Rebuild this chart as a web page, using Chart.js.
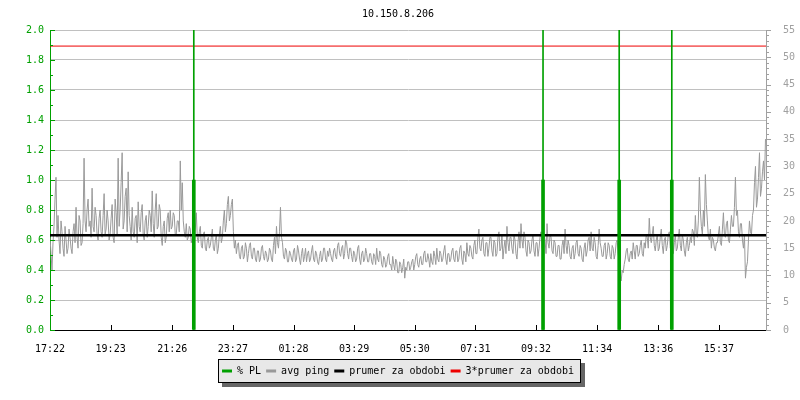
<!DOCTYPE html>
<html>
<head>
<meta charset="utf-8">
<script src="https://cdn.jsdelivr.net/npm/chart.js@4/dist/chart.umd.min.js"></script>
<style>
html,body{margin:0;padding:0;background:#fff;}
canvas{display:block;}
</style>
</head>
<body>
<canvas id="c" width="800" height="400"></canvas>
<script>
// ---------------- data ----------------
const chartTitle = '10.150.8.206';
const seriesLabels = ['% PL', 'avg ping', 'prumer za obdobi', '3*prumer za obdobi'];
// x axis: minutes since 17:22
const periodMinutes = 1429;
const tickMinutes = [0, 121, 244, 365, 486, 607, 728, 849, 970, 1092, 1214, 1335];
const tickLabels = ['17:22', '19:23', '21:26', '23:27', '01:28', '03:29', '05:30', '07:31', '09:32', '11:34', '13:36', '15:37'];
// avg ping (ms), one sample every 2 minutes
const pingStepMinutes = 2;
const avgPing = [
  17,14, 11,16, 19,24, 28,17, 21,16.5, 14,20, 18,15, 13.5,19, 16.5,14, 15,18.5,
  17,15, 14,18, 19.5,16, 22.5,17, 15,21, 20,15.5, 16,19.5, 31.5,20, 18,22, 24,19,
  20,17, 26,19, 18,22.5, 21,17.5, 16.5,20.5, 22,18, 17,21, 25,17.5, 18.5,22, 20,16.5,
  17.5,20.5, 23,17, 16,24, 21.5,17.5, 31.5,19, 22,27, 32.5,18.5, 20,24.5, 26,18, 29,21,
  19,16.5, 22.5,18, 17,20.5, 21,16, 23.5,19, 18,21.5, 23,17.5, 16.5,20, 21,17, 19,22,
  21,18, 25.5,19.5, 17,22, 25,18.5, 19,23, 22,17, 15.5,19, 20,16, 17,20.5, 21.5,18,
  22,18.5, 19,21.5, 21,17.5, 17.5,20, 20,18, 31,22, 27,20, 18,17, 19.5,16.5, 17,19,
  18.5,16, 17,19, 16,18.5, 21.5,17, 16,18, 19,15.5, 15,17.5, 18,15, 14.5,16.5, 17,15,
  15.5,17, 18.5,15, 14.5,16.5, 17.5,14, 15,17.5, 19,16, 17,20, 22,18, 19.5,23, 24.5,20,
  21,23, 24,18, 15,16.5, 14,15.5, 16,13.5, 13,15, 15.5,13, 13.5,16, 15,12.5, 14,15.5,
  16,13.5, 13,15, 15,13, 12.5,14.5, 14.5,12.5, 13,15, 15.5,13.5, 12.8,14.5, 14,12.5, 13,15,
  14.5,13, 12.5,15.5, 17,14, 19,16, 15,18, 22.5,17, 16,13.5, 13,15, 14.5,12.5, 12.5,14.5,
  14,13, 12.5,14.5, 15,12.5, 13,15.5, 14.5,13, 12,14, 15,12.5, 13.5,15, 12.5,14, 14.5,12.5,
  13,14.5, 15.5,13, 12.5,14.5, 14,12.5, 12,13.5, 14.5,12.5, 13,15, 15,13, 12.5,14.5, 13.5,15,
  14,13, 12.5,14.5, 15,13.5, 13,15.5, 16,14, 13.5,15, 15.5,13, 14,16.5, 16,14, 13,15,
  15,13.5, 12.5,14.5, 14,12.5, 13,15, 15.5,13, 12,14, 14.5,12.5, 13,15, 14,12.5, 12.5,14,
  14,12.5, 12,14, 13.5,12, 15,13, 12.5,14.5, 14,12, 11.5,13.5, 13,11.5, 12,13.5, 14,12,
  12,11, 13.5,12, 11,13, 12.5,10.5, 10.5,12.5, 12,10.5, 11.5,13, 9.5,11.5, 11,12.5, 12.5,11,
  11.5,12.5, 13,11, 12,13.5, 14,12, 11.5,13, 13.5,12, 12,14, 14.5,12.5, 12.5,14, 13,11.5,
  14,12.5, 12,14.5, 13.5,12, 15,13, 12.5,14.5, 14,12.5, 13,14.5, 15.5,13, 12,14, 14,12.5,
  13,14.5, 15,13, 12.5,14.5, 14.5,12.5, 13,15, 15.5,13, 12,14.5, 14,12.5, 16,14, 13.5,15.5,
  15,13.5, 13,15.5, 16.5,14, 14,17, 18.5,15, 14.5,16.5, 17,14, 13.5,16, 16,13.5, 15,17,
  17,14.5, 13.5,16.5, 16,13.5, 14,17, 18,14.5, 15,17.5, 13,15, 16.5,14, 19,16, 14.5,17,
  17,15, 14,17.5, 16.5,14, 13,16, 18,15, 19.5,16.5, 15,18, 17,14.5, 13.5,16.5, 16,14,
  14.5,16.5, 17.5,14.5, 13.5,16, 16,13.5, 15,17, 18,15, 14,17.5, 16.5,14, 19.5,16, 15,17.5,
  17,14.5, 14,16.5, 16,13.5, 13.5,15.5, 15.5,13, 13,15.5, 16.5,14, 18.5,15.5, 14,16.5, 15.5,13.5,
  13,15, 15.5,13, 14,16, 16.5,14, 13.5,15.5, 15,13, 12.5,15, 16,13.5, 14.5,16.5, 17,14.5,
  18,15, 14.5,17, 16,13.5, 13,15.5, 18.5,16, 15,13.5, 13.5,15.5, 16,13, 14,16, 15.5,13.5,
  13,15.5, 15,13, 14,16, 16.5,14, 12.5,10, 9,11, 10.5,12, 13,14.5, 15,13, 12.5,14,
  14.5,13, 16,14.5, 13,15.5, 15.5,13.5, 14,15.5, 16.5,14, 13.5,16, 15,17.5, 17,15, 20.5,17,
  16,17.5, 19,15.5, 14.5,16.5, 17.5,14.5, 15,17, 18.5,15.5, 14,16.5, 17,14.5, 15.5,17.5, 18,15,
  16,17.5, 14,16, 17.5,14.5, 15,17, 18.5,15.5, 14.5,17.5, 16.5,14.5, 13.5,16, 17,14.5, 15.5,17,
  16,18.5, 18,15.5, 21,17.5, 17,20, 28,22, 19,17.5, 22,19, 28.5,23, 20,17, 16.5,18.5,
  15,17, 16.5,15, 14.5,16, 16,17.5, 19,16, 15.5,18.5, 21.5,17.5, 17,19.5, 20,16.5, 16,18.5,
  21,19, 19,22.5, 28,21, 22,18, 17,19.5, 19.5,16.5, 15,17.5, 9.5,11.5, 12.5,16.5, 20,18,
  17.5,21, 22,27, 30,22.5, 24,28, 32.5,24.5, 26,29, 31,27.5, 35
];
// packet loss events
const plMinutes = [287, 984, 1136, 1241];
const plPercent = [1.0, 1.0, 1.0, 1.0];
// period average of ping (ms)
const periodAvgPing = 17.35;
const plAxisMax = 2.0;
const pingAxisMax = 55;

// ---------------- styles ----------------
const FONT = 'DejaVu Sans Mono';
const GREEN = '#00a000';
const GRAY = '#999999';
const AXISGRAY = '#a0a0a0';
const GRID = '#c0c0c0';

Chart.defaults.font.family = FONT;
Chart.defaults.font.size = 10;

const axisTicks = {
  id: 'axisTicks',
  afterDatasetsDraw(chart) {
    const {ctx, chartArea: a, scales} = chart;
    ctx.save();
    ctx.lineWidth = 1;
    ctx.strokeStyle = '#000';
    ctx.beginPath();
    scales.x.ticks.forEach(t => {
      if (t.value <= scales.x.min) return;
      const px = Math.round(scales.x.getPixelForValue(t.value)) + 0.5;
      ctx.moveTo(px, a.bottom);
      ctx.lineTo(px, a.bottom - 5);
    });
    ctx.stroke();
    const drawY = (scale, color, x0, dir, sub) => {
      ctx.strokeStyle = color;
      ctx.beginPath();
      const tv = scale.ticks.map(t => t.value);
      tv.forEach((v, i) => {
        const py = Math.round(scale.getPixelForValue(v)) + 0.5;
        ctx.moveTo(x0, py); ctx.lineTo(x0 + dir * 5, py);
        if (i < tv.length - 1) {
          for (let k = 1; k < sub; k++) {
            const mv = v + (tv[i + 1] - v) * k / sub;
            const my = Math.round(scale.getPixelForValue(mv)) + 0.5;
            ctx.moveTo(x0, my); ctx.lineTo(x0 + dir * 3, my);
          }
        }
      });
      ctx.stroke();
    };
    drawY(scales.y, GREEN, a.left, 1, 2);
    drawY(scales.y1, AXISGRAY, a.right, 1, 5);
    ctx.restore();
  }
};

const legendBox = {
  id: 'legendBox',
  beforeDraw(chart) {
    const lg = chart.legend;
    if (!lg || !lg.legendHitBoxes || !lg.legendHitBoxes.length) return;
    const hb = lg.legendHitBoxes;
    const first = hb[0], last = hb[hb.length - 1];
    const cy = first.top + first.height / 2;
    const left = Math.round(first.left - 4) + 0.5;
    const right = Math.round(last.left + last.width + 6) + 0.5;
    const top = Math.round(cy - 12) + 0.5;
    const h = 23;
    const w = right - left;
    const ctx = chart.ctx;
    ctx.save();
    ctx.fillStyle = '#666666';
    ctx.fillRect(left + 3.5, top + 3.5, w + 1, h + 1);
    ctx.fillStyle = '#e8e8e8';
    ctx.fillRect(left, top, w, h);
    ctx.strokeStyle = '#000';
    ctx.lineWidth = 1;
    ctx.strokeRect(left, top, w, h);
    ctx.restore();
  }
};

const datasets = [
  {
    type: 'bar', label: seriesLabels[0], legendColor: GREEN,
    data: plMinutes.map((t, i) => ({x: t, y: plPercent[i]})),
    backgroundColor: GREEN, borderWidth: 0, barThickness: 3, grouped: false,
    yAxisID: 'y', order: 0
  },
  {
    type: 'bar', label: 'PL marker', legendHidden: true,
    data: plMinutes.map(t => ({x: t, y: [0, plAxisMax]})),
    backgroundColor: GREEN, borderWidth: 0, barThickness: 1, grouped: false,
    yAxisID: 'y', order: 1
  },
  {
    type: 'line', label: seriesLabels[1], legendColor: GRAY,
    data: avgPing.map((v, i) => ({x: i * pingStepMinutes, y: v})),
    borderColor: GRAY, borderWidth: 1, pointRadius: 0, tension: 0,
    yAxisID: 'y1', order: 4
  },
  {
    type: 'line', label: seriesLabels[2], legendColor: '#000',
    data: [{x: 0, y: periodAvgPing}, {x: periodMinutes, y: periodAvgPing}],
    borderColor: '#000', borderWidth: 2.5, pointRadius: 0,
    yAxisID: 'y1', order: 3
  },
  {
    type: 'line', label: seriesLabels[3], legendColor: '#ee0000',
    data: [{x: 0, y: 3 * periodAvgPing}, {x: periodMinutes, y: 3 * periodAvgPing}],
    borderColor: '#ee0000', borderWidth: 1, pointRadius: 0,
    yAxisID: 'y1', order: 2
  }
];

new Chart(document.getElementById('c'), {
  type: 'line',
  data: {datasets},
  plugins: [legendBox, axisTicks],
  options: {
    responsive: false,
    animation: false,
    devicePixelRatio: 1,
    events: [],
    layout: {padding: {left: 0, right: 4, top: 0, bottom: 14}},
    scales: {
      x: {
        type: 'linear', min: 0, max: periodMinutes, offset: false,
        grid: {display: false},
        border: {display: true, color: '#000', width: 1},
        afterBuildTicks: s => { s.ticks = tickMinutes.map(v => ({value: v})); },
        afterFit: s => { s.height = 31; },
        ticks: {
          autoSkip: false, maxRotation: 0, minRotation: 0, padding: 5, color: '#000',
          font: {family: FONT, size: 10},
          callback: (v, i) => tickLabels[i]
        }
      },
      y: {
        type: 'linear', position: 'left', min: 0, max: plAxisMax,
        grid: {
          display: true, drawTicks: false,
          color: c => (c.tick && c.tick.value === 0) ? 'rgba(0,0,0,0)' : GRID
        },
        border: {display: true, color: GREEN, width: 1},
        afterFit: s => { s.width = 50; },
        ticks: {
          stepSize: 0.2, padding: 6, color: GREEN, font: {family: FONT, size: 10},
          callback: v => Number(v).toFixed(1)
        }
      },
      y1: {
        type: 'linear', position: 'right', min: 0, max: pingAxisMax,
        grid: {display: false},
        border: {display: true, color: AXISGRAY, width: 1},
        afterFit: s => { s.width = 30; },
        ticks: {stepSize: 5, padding: 9, color: AXISGRAY, font: {family: FONT, size: 10}}
      }
    },
    plugins: {
      tooltip: {enabled: false},
      title: {
        display: true, text: chartTitle, color: '#000',
        font: {family: FONT, size: 10, weight: 'normal', lineHeight: 1.2},
        padding: {top: 8, bottom: 10}
      },
      legend: {
        display: true, position: 'bottom',
        labels: {
          color: '#000', font: {family: FONT, size: 10},
          boxWidth: 10, boxHeight: 3, padding: 5,
          generateLabels: chart => chart.data.datasets
            .map((ds, i) => ({
              text: ds.label, fillStyle: ds.legendColor, strokeStyle: ds.legendColor,
              lineWidth: 0, hidden: false, datasetIndex: i, fontColor: '#000',
              _skip: !!ds.legendHidden
            }))
            .filter(it => !it._skip)
        }
      }
    }
  }
});
</script>
</body>
</html>
